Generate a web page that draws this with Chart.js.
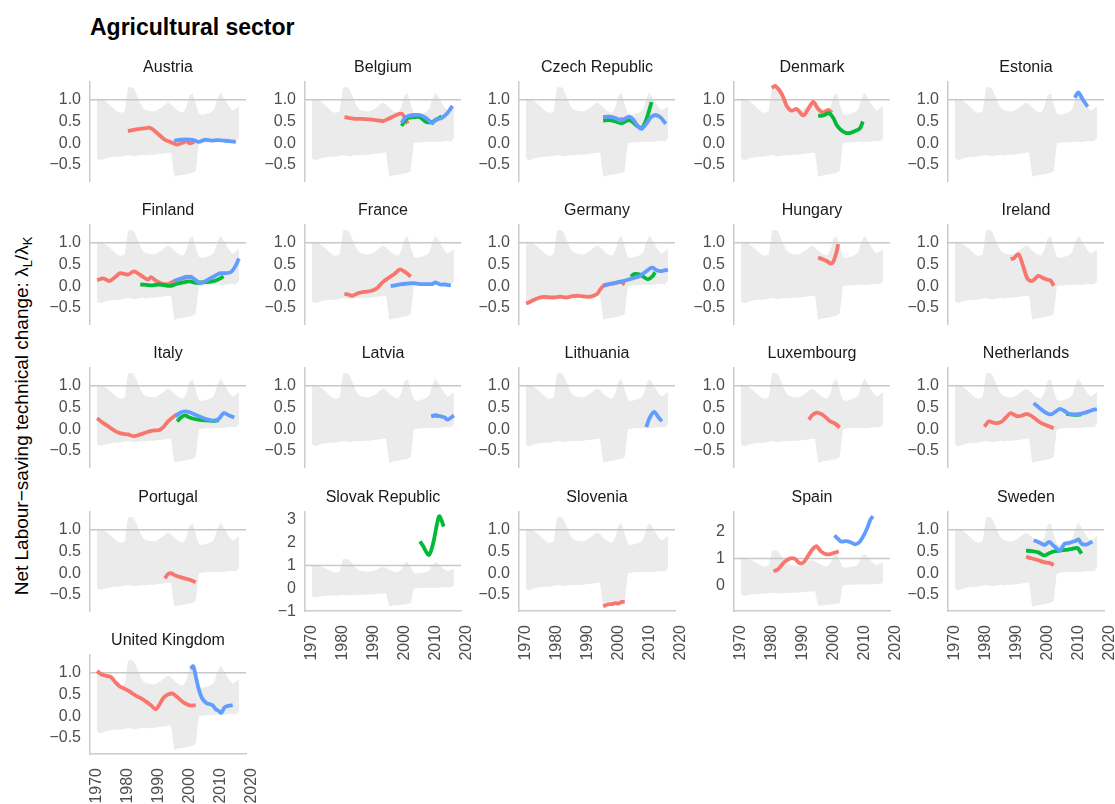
<!DOCTYPE html>
<html>
<head>
<meta charset="utf-8">
<script src="https://cdn.jsdelivr.net/npm/chart.js@4.4.1/dist/chart.umd.min.js"></script>
<style>
  body { margin: 0; background: #fff; width: 1115px; height: 804px; overflow: hidden; position: relative;
         font-family: "Liberation Sans", Arial, sans-serif; }
  canvas { position: absolute; }
  .strip { position: absolute; width: 156px; text-align: center; font-size: 16px; line-height: 20px; color: #1a1a1a; white-space: nowrap; }
  #title { position: absolute; left: 90px; top: 13px; font-size: 23px; font-weight: bold; color: #000; line-height: 28px; }
  #ytitle { position: absolute; left: 22px; top: 416px; transform: translate(-50%, -50%) rotate(-90deg);
            font-size: 19px; color: #000; white-space: nowrap; }
  #ytitle sub { font-size: 13px; vertical-align: -4px; line-height: 0; }
</style>
</head>
<body>
<div id="title">Agricultural sector</div>
<div id="ytitle">Net Labour−saving technical change: λ<sub>L</sub>/λ<sub>K</sub></div>
<script>
// grey band, same in every panel
const bandYears = [1970, 1971, 1972, 1973, 1974, 1975, 1976, 1977, 1978, 1979,
  1980, 1981, 1982, 1983, 1984, 1985, 1986, 1987, 1988, 1989,
  1990, 1991, 1992, 1993, 1994, 1995, 1996, 1997, 1998, 1999,
  2000, 2001, 2002, 2003, 2004, 2005, 2006, 2007, 2008, 2009,
  2010, 2011, 2012, 2013, 2014, 2015, 2016];
const bandHigh = [1.03, 1.02, 1.00, 0.95, 0.89, 0.83, 0.76, 0.71, 0.70, 0.74,
  1.28, 1.30, 1.26, 1.10, 0.92, 0.80, 0.76, 0.74, 0.73, 0.74,
  0.78, 0.83, 0.89, 0.94, 0.90, 0.82, 0.76, 0.72, 0.71, 0.84,
  1.10, 1.15, 0.90, 0.68, 0.65, 0.67, 0.69, 0.72, 0.78, 1.02,
  1.16, 1.06, 0.93, 0.82, 0.75, 0.80, 0.85];
const bandLow = [-0.35, -0.39, -0.37, -0.34, -0.33, -0.32, -0.31, -0.31, -0.30, -0.29,
  -0.27, -0.28, -0.30, -0.29, -0.27, -0.27, -0.28, -0.26, -0.27, -0.26,
  -0.25, -0.24, -0.23, -0.22, -0.22, -0.77, -0.75, -0.73, -0.73, -0.71,
  -0.70, -0.68, -0.64, 0.00, 0.01, 0.02, 0.02, 0.03, 0.03, 0.04,
  0.03, 0.03, 0.04, 0.05, 0.05, 0.04, 0.12];

const countries = ["Austria", "Belgium", "Czech Republic", "Denmark", "Estonia",
  "Finland", "France", "Germany", "Hungary", "Ireland",
  "Italy", "Latvia", "Lithuania", "Luxembourg", "Netherlands",
  "Portugal", "Slovak Republic", "Slovenia", "Spain", "Sweden",
  "United Kingdom"];

const xTicks = [1970, 1980, 1990, 2000, 2010, 2020];
const yTicksStd = [-0.5, 0, 0.5, 1];
const yTicksSlovak = [-1, 0, 1, 2, 3];
const yTicksSpain = [0, 1, 2];

// series: [year, value]
const austriaRed = [[1980,0.28],[1982,0.31],[1984,0.33],[1986,0.35],[1987,0.36],[1988,0.32],[1990,0.20],[1992,0.08],[1994,0.02],[1996,-0.03],[1998,0.02],[1999,0.05],[2000,0.0],[2001.5,0.03]];
const austriaBlue = [[1995,0.06],[1997,0.08],[1999,0.09],[2001,0.08],[2003,0.03],[2005,0.08],[2007,0.06],[2009,0.07],[2011,0.06],[2013,0.05],[2015,0.03]];

const belgiumRed = [[1980.5,0.60],[1982,0.58],[1984,0.56],[1986,0.56],[1988,0.55],[1990,0.54],[1992,0.52],[1993,0.51],[1995,0.57],[1997,0.64],[1999,0.68],[2000,0.60],[2001,0.45]];
const belgiumGreen = [[1999,0.40],[2000,0.50],[2001,0.58],[2003,0.60],[2005,0.60],[2007,0.49],[2009,0.49],[2011,0.57],[2012,0.62]];
const belgiumBlue = [[1999,0.47],[2000,0.57],[2001,0.62],[2003,0.65],[2005,0.65],[2007,0.58],[2009,0.46],[2010,0.54],[2012,0.58],[2014,0.70],[2015.5,0.86]];

const czechRed = [[1995,0.58],[1996,0.60],[1997.5,0.59],[1999,0.55],[2000.5,0.55],[2001.5,0.56]];
const czechGreen = [[1995,0.52],[1997,0.53],[1999,0.50],[2001,0.46],[2003,0.53],[2004,0.52],[2006,0.40],[2007.5,0.35],[2009,0.55],[2010.7,0.95]];
const czechBlue = [[1995,0.60],[1997,0.61],[1999,0.58],[2000.5,0.52],[2002,0.56],[2003.5,0.61],[2005,0.52],[2006.5,0.37],[2007.5,0.33],[2009,0.45],[2010.5,0.60],[2012,0.65],[2013.5,0.60],[2015.3,0.45]];

const denmarkRed = [[1980,1.27],[1981,1.32],[1982.5,1.21],[1983.7,1.06],[1984.8,0.86],[1986.4,0.75],[1988,0.79],[1990.2,0.64],[1991.8,0.79],[1993.4,0.95],[1995,0.79],[1996.6,0.71],[1998.3,0.77],[1999.4,0.70]];
const denmarkGreen = [[1995,0.64],[1996,0.63],[1997,0.65],[1998.5,0.69],[2000,0.57],[2001,0.42],[2002.5,0.30],[2004,0.24],[2005.5,0.24],[2007,0.28],[2008.5,0.34],[2009.5,0.50]];

const estoniaBlue = [[2008.8,1.05],[2010,1.17],[2011.3,1.02],[2013,0.84]];

const finlandRed = [[1970,0.14],[1972,0.18],[1974,0.12],[1976,0.22],[1977.5,0.30],[1980,0.27],[1982,0.34],[1984,0.26],[1986.5,0.15],[1987.5,0.21],[1989,0.13],[1991,0.06],[1993,0.05],[1995,0.12],[1997,0.17],[1999,0.20],[2001,0.22]];
const finlandGreen = [[1984,0.04],[1986,0.03],[1988,0.02],[1990,0.04],[1992,0.02],[1994,0.01],[1996,0.06],[1998,0.09],[2000,0.11],[2002,0.08],[2004,0.09],[2006,0.10],[2008,0.12],[2010,0.18],[2011,0.23]];
const finlandBlue = [[1995,0.11],[1997,0.17],[1999,0.22],[2001,0.19],[2003,0.09],[2004,0.08],[2006,0.15],[2008,0.23],[2010,0.30],[2012,0.30],[2013.5,0.33],[2015,0.48],[2016,0.64]];

const franceRed = [[1980.5,-0.17],[1982,-0.20],[1983,-0.22],[1985,-0.16],[1987,-0.13],[1989,-0.11],[1991,-0.05],[1993,0.10],[1995,0.20],[1997,0.30],[1998.5,0.39],[2000.5,0.31],[2002,0.22]];
const franceBlue = [[1995.5,0.0],[1997,0.02],[1999,0.05],[2001,0.06],[2003,0.07],[2005,0.05],[2007,0.05],[2009,0.05],[2010,0.09],[2011.5,0.04],[2013,0.04],[2015,0.02]];

const germanyRed = [[1970,-0.40],[1971,-0.37],[1973,-0.30],[1975,-0.25],[1977,-0.25],[1979,-0.26],[1981,-0.24],[1983,-0.26],[1985,-0.23],[1987,-0.22],[1989,-0.24],[1991,-0.24],[1993,-0.18],[1994,-0.08],[1995,0.0],[1997,0.05],[1999,0.07],[2000.5,0.10],[2002,0.04]];
const germanyGreen = [[2004,0.22],[2005,0.28],[2007,0.27],[2008,0.22],[2009.5,0.16],[2011,0.23],[2011.8,0.32]];
const germanyBlue = [[1995,0.02],[1997,0.05],[1999,0.08],[2001,0.11],[2003,0.15],[2005,0.19],[2007,0.24],[2008.5,0.32],[2010,0.40],[2011,0.43],[2012.5,0.36],[2014,0.35],[2016,0.38]];

const hungaryRed = [[1995,0.66],[1996.5,0.62],[1998,0.57],[1999,0.52],[2000,0.58],[2001,0.80],[2001.5,0.97]];

const irelandRed = [[1988,0.63],[1989,0.64],[1990.5,0.74],[1992,0.48],[1993.5,0.17],[1995,0.12],[1997,0.24],[1998.5,0.19],[2000,0.15],[2001,0.13],[2002,0.01]];

const italyRed = [[1970,0.25],[1972,0.14],[1974,0.05],[1976,-0.05],[1978,-0.10],[1980,-0.12],[1982,-0.16],[1984,-0.12],[1986,-0.07],[1988,-0.03],[1990,-0.02],[1991.5,0.05],[1993,0.18],[1995,0.30],[1996.5,0.36]];
const italyGreen = [[1996,0.18],[1997,0.26],[1998.5,0.32],[2000,0.27],[2002,0.23],[2004,0.21],[2006,0.20],[2008,0.19],[2009.5,0.21]];
const italyBlue = [[1995.5,0.30],[1997,0.38],[1998.5,0.41],[2000,0.39],[2002,0.33],[2004,0.27],[2006,0.22],[2008,0.20],[2009.5,0.24],[2011,0.37],[2012.5,0.33],[2014.5,0.27]];

const latviaGreen = [[2008.7,0.30],[2010,0.32],[2011,0.30]];
const latviaBlue = [[2008.7,0.30],[2010,0.32],[2011.5,0.30],[2013,0.27],[2014,0.22],[2016,0.32]];

const lithuaniaBlue = [[2009,0.05],[2010,0.25],[2011.5,0.40],[2013,0.27],[2014,0.18]];

const luxembourgRed = [[1992,0.22],[1993,0.32],[1994.5,0.38],[1996,0.35],[1997.5,0.27],[1999,0.18],[2000.5,0.13],[2002,0.04]];

const netherlandsRed = [[1979.5,0.06],[1981,0.18],[1983,0.14],[1985,0.17],[1986.5,0.27],[1988,0.37],[1990,0.30],[1991.5,0.31],[1993,0.35],[1994.5,0.32],[1996,0.24],[1998,0.14],[2000,0.08],[2002,0.02]];
const netherlandsGreen = [[2006,0.36],[2009,0.33],[2011,0.34]];
const netherlandsBlue = [[1995.5,0.60],[1997,0.51],[1999,0.40],[2001,0.34],[2002.5,0.40],[2004,0.47],[2005.5,0.42],[2007,0.35],[2009,0.34],[2011,0.36],[2013,0.40],[2014.5,0.44],[2016,0.46]];

const portugalRed = [[1992,-0.12],[1993,-0.02],[1994,0.0],[1995,-0.04],[1997,-0.09],[1999,-0.13],[2000.5,-0.16],[2002,-0.21]];

const slovakGreen = [[2005,2.05],[2006,1.85],[2007,1.60],[2007.8,1.45],[2008.5,1.60],[2009.5,2.10],[2010.5,2.80],[2011.3,3.15],[2012.7,2.70]];

const sloveniaRed = [[1995,-0.76],[1996.5,-0.72],[1998,-0.71],[1999,-0.69],[2000,-0.70],[2001,-0.66],[2002,-0.66]];

const spainRed = [[1980.5,0.52],[1982,0.60],[1984,0.86],[1986,1.0],[1987.5,0.98],[1989,0.82],[1990.5,0.88],[1992,1.15],[1993.5,1.38],[1994.5,1.45],[1996,1.25],[1997.5,1.16],[1999,1.16],[2000.5,1.22],[2001.7,1.26]];
const spainBlue = [[2000.3,1.85],[2001.5,1.72],[2002.5,1.62],[2004,1.64],[2005.5,1.60],[2007,1.52],[2008.5,1.62],[2010,1.90],[2011,2.15],[2012,2.45],[2012.8,2.56]];

const swedenRed = [[1993,0.38],[1995,0.34],[1997,0.30],[1999,0.25],[2000.5,0.24],[2002,0.19]];
const swedenGreen = [[1993,0.52],[1995,0.51],[1997,0.48],[1999,0.41],[2000.5,0.46],[2002,0.50],[2004,0.52],[2006,0.54],[2008,0.56],[2009.7,0.58],[2011,0.45]];
const swedenBlue = [[1995.5,0.76],[1997,0.72],[1999,0.65],[2000.5,0.72],[2002,0.63],[2003,0.57],[2004,0.52],[2005.5,0.68],[2007,0.70],[2009,0.74],[2010,0.78],[2011,0.68],[2012.5,0.66],[2014.5,0.73]];

const ukRed = [[1970,1.04],[1971.5,0.96],[1973,0.93],[1974.5,0.90],[1976,0.78],[1977.5,0.68],[1979,0.63],[1980.5,0.57],[1982,0.50],[1984,0.42],[1986,0.33],[1987.5,0.25],[1989,0.16],[1990,0.24],[1991.5,0.42],[1993,0.50],[1994.5,0.52],[1996,0.44],[1998,0.32],[2000,0.25],[2002,0.25]];
const ukBlue = [[2000.3,1.10],[2001.2,1.15],[2002.2,0.85],[2003,0.62],[2004,0.42],[2005.5,0.30],[2006.5,0.28],[2007.5,0.25],[2008.5,0.16],[2009.5,0.12],[2010.3,0.08],[2011.3,0.20],[2012.5,0.24],[2014,0.25]];

const seriesByCountry = [
  [austriaRed, null, austriaBlue],
  [belgiumRed, belgiumGreen, belgiumBlue],
  [czechRed, czechGreen, czechBlue],
  [denmarkRed, denmarkGreen, null],
  [null, null, estoniaBlue],
  [finlandRed, finlandGreen, finlandBlue],
  [franceRed, null, franceBlue],
  [germanyRed, germanyGreen, germanyBlue],
  [hungaryRed, null, null],
  [irelandRed, null, null],
  [italyRed, italyGreen, italyBlue],
  [null, latviaGreen, latviaBlue],
  [null, null, lithuaniaBlue],
  [luxembourgRed, null, null],
  [netherlandsRed, netherlandsGreen, netherlandsBlue],
  [portugalRed, null, null],
  [null, slovakGreen, null],
  [sloveniaRed, null, null],
  [spainRed, null, spainBlue],
  [swedenRed, swedenGreen, swedenBlue],
  [ukRed, null, ukBlue]
];

const colours = ["#F8766D", "#00BA38", "#619CFF"];
const xMin = 1967.7, xMax = 2018.3;
const plotW = 156, plotH = 99, yAxisW = 60, padTop = 10, padRight = 16;

function yRange(name) {
  if (name === "Slovak Republic") return { min: -0.98, max: 3.33, ticks: yTicksSlovak };
  if (name === "Spain") return { min: -0.95, max: 2.72, ticks: yTicksSpain };
  return { min: -0.87, max: 1.41, ticks: yTicksStd };
}

function fmtY(v, name) {
  const s = (name === "Slovak Republic" || name === "Spain") ? String(v) : v.toFixed(1);
  return s.replace("-", "\u2212");
}

countries.forEach((name, i) => {
  const col = i % 5, row = Math.floor(i / 5);
  const plotLeft = Math.round(90 + col * 214.6);
  const plotTop = Math.round(82 + row * 143.2);
  const hasX = row === 4 || (row === 3 && col > 0);
  const xh = hasX ? 60 : 0;

  const canvas = document.createElement("canvas");
  canvas.width = yAxisW + plotW + padRight;
  canvas.height = padTop + plotH + xh + 2;
  canvas.style.left = (plotLeft - yAxisW) + "px";
  canvas.style.top = (plotTop - padTop) + "px";
  document.body.appendChild(canvas);

  const strip = document.createElement("div");
  strip.className = "strip";
  strip.textContent = name;
  strip.style.left = plotLeft + "px";
  strip.style.top = (plotTop - 25) + "px";
  document.body.appendChild(strip);

  const yr = yRange(name);
  const datasets = [
    { data: bandYears.map((x, k) => ({ x, y: bandLow[k] })), borderWidth: 0, pointRadius: 0, fill: false, order: 10 },
    { data: bandYears.map((x, k) => ({ x, y: bandHigh[k] })), borderWidth: 0, pointRadius: 0,
      fill: 0, backgroundColor: "#EBEBEB", order: 9 },
    { data: [{ x: xMin, y: 1 }, { x: xMax, y: 1 }], borderColor: "#C8C8C8", borderWidth: 1.5, pointRadius: 0, order: 8 }
  ];
  seriesByCountry[i].forEach((s, k) => {
    if (!s) return;
    datasets.push({
      data: s.map(p => ({ x: p[0], y: p[1] })),
      borderColor: colours[k], borderWidth: 3.8, pointRadius: 0,
      tension: 0.3, borderCapStyle: "butt", borderJoinStyle: "round", order: 3 - k
    });
  });

  new Chart(canvas, {
    type: "line",
    data: { datasets },
    options: {
      responsive: false,
      animation: false,
      events: [],
      layout: { padding: { top: padTop, right: padRight, bottom: 2, left: 0 } },
      plugins: { legend: { display: false }, tooltip: { enabled: false } },
      scales: {
        x: {
          type: "linear", min: xMin, max: xMax, display: hasX,
          grid: { display: false, drawTicks: false },
          border: { display: true, color: "#CCCCCC", width: 1.5 },
          ticks: { autoSkip: false, minRotation: 90, maxRotation: 90, padding: 14,
                   color: "#4D4D4D", font: { family: "Liberation Sans", size: 16 },
                   callback: v => String(v) },
          afterBuildTicks: s => { s.ticks = xTicks.map(v => ({ value: v })); },
          afterFit: s => { s.height = xh; s.paddingLeft = 0; s.paddingRight = 0; }
        },
        y: {
          type: "linear", min: yr.min, max: yr.max,
          grid: { display: false, drawTicks: false },
          border: { display: true, color: "#CCCCCC", width: 1.5 },
          ticks: { padding: 9, color: "#4D4D4D", font: { family: "Liberation Sans", size: 16 },
                   callback: v => fmtY(v, name) },
          afterBuildTicks: s => { s.ticks = yr.ticks.map(v => ({ value: v })); },
          afterFit: s => { s.width = yAxisW; s.paddingTop = 0; s.paddingBottom = 0; }
        }
      }
    }
  });
});
</script>
</body>
</html>
